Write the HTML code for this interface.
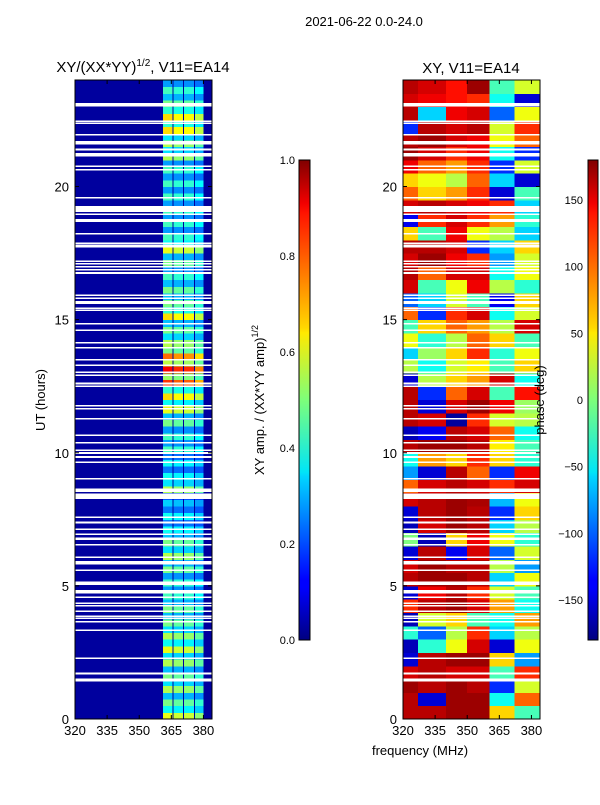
<!DOCTYPE html>
<html><head><meta charset="utf-8"><style>
body{margin:0;background:#fff;}
svg text{font-family:"Liberation Sans",sans-serif;fill:#000;}
</style></head><body>
<svg id="fig" width="600" height="800" xmlns="http://www.w3.org/2000/svg">
<defs>
<linearGradient id="jetg" x1="0" y1="1" x2="0" y2="0">
<stop offset="0" stop-color="#000080"/><stop offset="0.11" stop-color="#0000ff"/><stop offset="0.125" stop-color="#0000ff"/><stop offset="0.34" stop-color="#00d5ff"/><stop offset="0.35" stop-color="#00e5f7"/><stop offset="0.5" stop-color="#7dff7a"/><stop offset="0.64" stop-color="#ffea00"/><stop offset="0.65" stop-color="#ffd800"/><stop offset="0.89" stop-color="#ff1300"/><stop offset="0.91" stop-color="#f20000"/><stop offset="1" stop-color="#800000"/>
</linearGradient>
<clipPath id="clipL"><rect x="75" y="80" width="137" height="639"/></clipPath>
<clipPath id="clipR"><rect x="403" y="80" width="137" height="639"/></clipPath>
</defs>
<text x="364" y="26" font-size="13" text-anchor="middle">2021-06-22 0.0-24.0</text>
<text x="143" y="72" font-size="15" text-anchor="middle">XY/(XX*YY)<tspan font-size="10" dy="-6">1/2</tspan><tspan dy="6">, V11=EA14</tspan></text>
<text x="471" y="73" font-size="15" text-anchor="middle">XY, V11=EA14</text>
<g id="heatL" clip-path="url(#clipL)"></g>
<g id="heatR" clip-path="url(#clipR)"></g>
<rect x="75" y="80" width="137" height="639" fill="none" stroke="#000" stroke-width="1"/>
<rect x="403" y="80" width="137" height="639" fill="none" stroke="#000" stroke-width="1"/>
<g id="axes"></g>
<text transform="translate(45,400) rotate(-90)" font-size="13" text-anchor="middle">UT (hours)</text>
<text x="420" y="755" font-size="13" text-anchor="middle">frequency (MHz)</text>
<rect x="299" y="160" width="11" height="480" fill="url(#jetg)" stroke="#000" stroke-width="1"/>
<rect x="588" y="160" width="10" height="480" fill="url(#jetg)" stroke="#000" stroke-width="1"/>
<text transform="translate(264,400) rotate(-90)" font-size="13" text-anchor="middle">XY amp. / (XX*YY amp)<tspan font-size="9" dy="-6">1/2</tspan></text>
<text transform="translate(544,400) rotate(-90)" font-size="13" text-anchor="middle">phase (deg)</text>
</svg>
<script>
// ---- data ----
const ampRows = [0.55,0.45,0.5,0.45,0.5,0.55,0.5,0.45,0.45,0.4,0.4,0.45,0.5,0.45,0.35,0.35,0.3,0.5,0.35,0.35,0.4,0.4,0.45,0.55,0.6,0.75,0.8,0.7,0.5,0.45,0.6,0.45,0.45,0.4,0.45,0.55,0.4,0.4,0.4,0.4,0.4,0.4,0.5,0.5,0.6,0.6,0.45,0.4];
const ampBandFactor = [1.0,0.95,0.95,0.85];
const ampBands = [[361,365.5],[366,370.5],[371,375.5],[376,380]];
const ampBackground = 0.03;
const phaseCols = [[320,327],[327,340],[340,350],[350,360.5],[360.5,372],[372,384]];
const phaseRows = [
[160,160,170,170,60,-20],[160,-150,170,170,-40,100],[170,160,170,160,-120,30],[150,160,150,150,-20,120],
[-150,160,170,170,60,-80],[-160,-30,40,150,-150,40],[-30,-100,20,120,-60,20],[-160,30,60,-20,-40,80],
[120,160,170,150,80,-40],[-150,140,160,120,30,-20],[160,170,170,160,-60,40],[150,170,160,160,20,-80],
[-150,160,-140,150,-100,30],[0,-160,60,140,40,-30],[-160,150,170,160,-60,20],[-150,160,170,160,-120,60],
[150,160,170,165,-70,40],[100,150,160,150,120,150],[-80,-150,160,100,-120,140],[-40,80,60,120,60,-30],
[160,170,170,160,50,-20],[-160,-140,160,150,100,-40],[160,150,-170,120,30,20],[160,-150,150,170,140,10],
[160,-120,100,150,-20,130],[-150,20,60,80,150,-40],[20,-40,30,50,-20,60],[-60,10,60,120,-30,40],
[40,-30,20,100,60,-20],[-20,60,100,80,20,150],[100,-120,120,150,-40,30],[-100,-60,30,-20,-140,60],
[150,-20,40,140,20,-30],[160,100,150,150,-40,40],[150,170,140,120,-80,30],[160,160,150,-120,-60,60],
[60,-20,140,40,20,-60],[-140,120,150,120,80,-30],[150,160,150,140,120,-60],[100,60,80,120,-150,-20],
[60,40,20,100,-60,-150],[140,100,80,120,-120,30],[170,150,120,140,-40,-120],[160,170,150,140,40,100],
[-120,160,150,160,30,120],[160,-60,140,150,-100,40],[150,140,130,120,-40,-150],[160,150,130,170,-20,30]];
const gapTimes = [23.07,22.45,22.38,21.95,21.64,21.39,21.19,20.76,20.63,19.58,19.15,18.96,18.72,18.22,17.87,17.76,17.2,17.1,16.98,16.87,16.75,15.91,15.81,15.64,15.43,15.35,14.85,14.6,14.13,13.94,13.5,13.28,13.03,12.91,12.6,12.5,11.76,11.66,11.28,10.66,10.38,10.09,9.99,9.84,9.65,9.03,8.62,8.56,8.37,7.57,7.38,7.12,6.94,6.77,6.55,6.07,5.9,5.84,5.58,5.14,5.07,4.81,4.75,4.57,4.34,4.25,4.04,3.86,3.78,3.65,3.34,2.28,1.71,1.46];
const gapWidths = [0.12,0.06,0.06,0.06,0.12,0.06,0.12,0.06,0.06,0.06,0.22,0.06,0.12,0.06,0.06,0.12,0.06,0.06,0.06,0.06,0.06,0.06,0.06,0.12,0.06,0.06,0.06,0.06,0.06,0.06,0.06,0.06,0.06,0.06,0.06,0.06,0.06,0.06,0.06,0.06,0.06,0.06,0.06,0.06,0.06,0.06,0.06,0.06,0.2,0.06,0.06,0.06,0.06,0.1,0.06,0.06,0.06,0.06,0.06,0.06,0.06,0.06,0.06,0.06,0.06,0.06,0.06,0.06,0.06,0.06,0.06,0.06,0.06,0.12];
const xTicks = [320,335,350,365,380];
const yTicks = [0,5,10,15,20];
const ampTicks = [0.0,0.2,0.4,0.6,0.8,1.0];
const phaseTicks = [150,100,50,0,-50,-100,-150];
// ---- scales ----
const NS='http://www.w3.org/2000/svg';
const xL = f => 75 + (f-320)*137/64;
const xR = f => 403 + (f-320)*137/64;
const yT = t => 719 - t*639/24;
function jet(v){v=Math.max(0,Math.min(1,v));
 const r=Math.min(Math.max(Math.min(4*v-1.5,-4*v+4.5),0),1);
 const g=Math.min(Math.max(Math.min(4*v-0.5,-4*v+3.5),0),1);
 const b=Math.min(Math.max(Math.min(4*v+0.5,-4*v+2.5),0),1);
 return 'rgb('+Math.round(r*255)+','+Math.round(g*255)+','+Math.round(b*255)+')';}
function rect(g,x,y,w,h,fill){const r=document.createElementNS(NS,'rect');
 r.setAttribute('x',x);r.setAttribute('y',y);r.setAttribute('width',w);r.setAttribute('height',h);r.setAttribute('fill',fill);
 r.setAttribute('shape-rendering','crispEdges');g.appendChild(r);return r;}
const hL=document.getElementById('heatL'), hR=document.getElementById('heatR');
const bg=rect(hL,75,80,137,639,jet(ampBackground));


const dt=24/ampRows.length;
ampRows.forEach((v,i)=>{
 ampBands.forEach((b,j)=>{
  for(let k=0;k<2;k++){
   const t0=i*dt+k*dt/2, t1=t0+dt/2;
   const val=v*ampBandFactor[j]*(k===0?1.1:0.7);
   const c=rect(hL,xL(b[0]),yT(t1),xL(b[1])-xL(b[0]),yT(t0)-yT(t1)+0.5,jet(val));
   
   
  }
 });
});
const dtp=24/phaseRows.length;
phaseRows.forEach((row,i)=>{
 row.forEach((p,j)=>{
  const t0=i*dtp,t1=t0+dtp, c0=phaseCols[j];
  const c=rect(hR,xR(c0[0]),yT(t1),xR(c0[1])-xR(c0[0])+0.5,yT(t0)-yT(t1)+0.5,jet((p+180)/360));
  
  
 });
});
gapTimes.forEach((t,i)=>{
 const w=gapWidths[i]||0.06;
 [[hL,75],[hR,403]].forEach(([g,x0])=>{
  const r=rect(g,x0,yT(t+w/2),137,Math.max(1.5,yT(t-w/2)-yT(t+w/2)),'#fff');
  
  
 });
});
// ---- axes ----
const ax=document.getElementById('axes');
function line(x1,y1,x2,y2){const l=document.createElementNS(NS,'line');
 l.setAttribute('x1',x1);l.setAttribute('y1',y1);l.setAttribute('x2',x2);l.setAttribute('y2',y2);
 l.setAttribute('stroke','#000');l.setAttribute('stroke-width','1');ax.appendChild(l);return l;}
function text(x,y,s,anchor){const t=document.createElementNS(NS,'text');
 t.setAttribute('x',x);t.setAttribute('y',y);t.setAttribute('font-size','13');t.setAttribute('text-anchor',anchor);
 t.textContent=s;ax.appendChild(t);return t;}
[xL,xR].forEach(sx=>{
 xTicks.forEach(f=>{const x=sx(f);
  const a=line(x,719,x,715);
  const b=line(x,80,x,84);
  const t=text(x,735,String(f),'middle');
 });
});
[75,403].forEach(x0=>{
 yTicks.forEach(v=>{const y=yT(v);
  const a=line(x0,y,x0+4,y);
  const b=line(x0+137,y,x0+133,y);
  const t=text(x0-6,y+5,String(v),'end');
 });
});
ampTicks.forEach(v=>{const y=640-v*480;
 const a=line(299,y,302,y);
 line(310,y,307,y);
 const t=text(295,y+4,v.toFixed(1),'end');t.setAttribute('font-size','11');
 
});
phaseTicks.forEach(v=>{const y=640-(v+180)*480/360;
 const a=line(588,y,591,y);
 line(598,y,595,y);
 const t=text(583,y+4,v<0?'\u2212'+Math.abs(v):String(v),'end');t.setAttribute('font-size','11');
 
});
</script>
</body></html>
